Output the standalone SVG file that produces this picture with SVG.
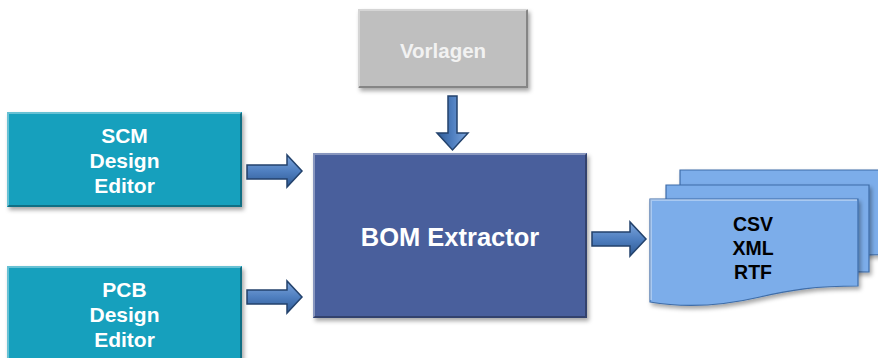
<svg xmlns="http://www.w3.org/2000/svg" width="878" height="358" viewBox="0 0 878 358">
  <defs>
    <filter id="sh" x="-10%" y="-10%" width="125%" height="130%">
      <feDropShadow dx="2" dy="3" stdDeviation="2" flood-color="#000" flood-opacity="0.35"/>
    </filter>
    <linearGradient id="arrH" x1="0" y1="0" x2="0" y2="1">
      <stop offset="0" stop-color="#7ea6dc"/>
      <stop offset="0.5" stop-color="#4f7fc0"/>
      <stop offset="1" stop-color="#2f5a94"/>
    </linearGradient>
    <linearGradient id="arrV" x1="0" y1="0" x2="1" y2="0">
      <stop offset="0" stop-color="#2f5a94"/>
      <stop offset="0.5" stop-color="#4f7fc0"/>
      <stop offset="1" stop-color="#7ea6dc"/>
    </linearGradient>
  </defs>
  <style>
    .lbl { font-family: "Liberation Sans", Arial, sans-serif; font-weight: bold; text-anchor: middle; }
    .w { fill: #ffffff; font-size: 21px; }
    .teal { fill: #14a0bd; }
    .hi { fill: none; stroke: #ffffff; stroke-opacity: 0.35; stroke-width: 2; }
    .lo { fill: none; stroke: #000000; stroke-opacity: 0.3; stroke-width: 2; }
    .doc { fill: #7badea; stroke: #3f6da8; stroke-width: 1.2; }
    .arr { stroke: #23426c; stroke-width: 1.5; stroke-linejoin: miter; }
  </style>

  <g id="connectors">
    <path class="arr" fill="url(#arrV)" d="M448,96 H457 V133 H468 L452.5,150 L437,133 H448 Z"/>
    <path class="arr" fill="url(#arrH)" d="M247,165 H287 V155 L302,171 L287,187 V179 H247 Z"/>
    <path class="arr" fill="url(#arrH)" d="M247,290 H287 V281 L302,297 L287,313 V304 H247 Z"/>
    <path class="arr" fill="url(#arrH)" d="M592,232 H630 V222 L646,239 L630,256 V246 H592 Z"/>
  </g>

  <g id="vorlagen">
    <rect x="358" y="9" width="170" height="79" fill="#bfbfbf" filter="url(#sh)"/>
    <polyline class="hi" points="359,87 359,10 527,10"/>
    <polyline class="lo" points="359,87 527,87 527,10"/>
    <text class="lbl" x="443" y="58" style="fill:#f2f2f2;font-size:20.5px">Vorlagen</text>
  </g>

  <g id="scm">
    <rect class="teal" x="7" y="112" width="235" height="95" filter="url(#sh)"/>
    <polyline class="hi" points="8,206 8,113 241,113"/>
    <polyline class="lo" points="8,206 241,206 241,113"/>
    <text class="lbl w" x="124.5" y="143">SCM</text>
    <text class="lbl w" x="124.5" y="168">Design</text>
    <text class="lbl w" x="124.5" y="193">Editor</text>
  </g>

  <g id="pcb">
    <rect class="teal" x="7" y="266" width="235" height="95" filter="url(#sh)"/>
    <polyline class="hi" points="8,360 8,267 241,267"/>
    <polyline class="lo" points="8,360 241,360 241,267"/>
    <text class="lbl w" x="124.5" y="297">PCB</text>
    <text class="lbl w" x="124.5" y="322">Design</text>
    <text class="lbl w" x="124.5" y="347">Editor</text>
  </g>

  <g id="bom">
    <rect x="313" y="153" width="274" height="165" fill="#4a5f9c" filter="url(#sh)"/>
    <polyline class="hi" points="314,317 314,154 586,154"/>
    <polyline class="lo" points="314,317 586,317 586,154"/>
    <text class="lbl" x="450" y="246" style="fill:#ffffff;font-size:25.5px">BOM Extractor</text>
  </g>

  <g id="output">
    <path class="doc" filter="url(#sh)" d="M680,170 H892 V255 C860,254 830,256 800,262 C770,268 740,274 700,272 L680,271 Z"/>
    <path class="doc" filter="url(#sh)" d="M666,185 H869 V272 C840,271 812,274 785,280 C755,287 720,292 666,288 Z"/>
    <path class="doc" filter="url(#sh)" d="M650,199 H858 V286 C815,286 790,290 760,297 C730,304 690,309 650,302 Z"/>
    <path class="hi" d="M651,300 V200 H857"/>
    <text class="lbl" x="753" y="231" style="fill:#000000;font-size:19.5px">CSV</text>
    <text class="lbl" x="753" y="255" style="fill:#000000;font-size:19.5px">XML</text>
    <text class="lbl" x="753" y="279" style="fill:#000000;font-size:19.5px">RTF</text>
  </g>
</svg>
